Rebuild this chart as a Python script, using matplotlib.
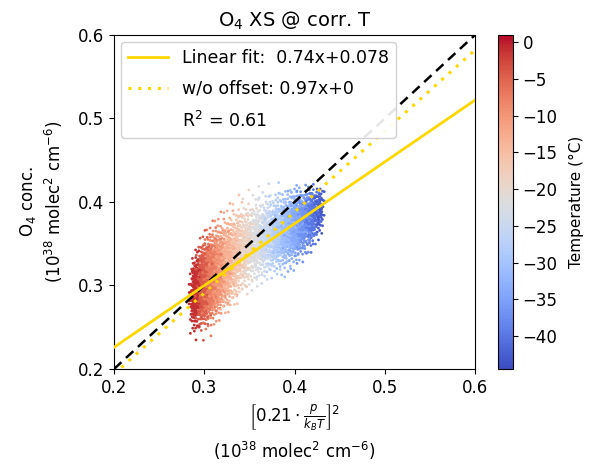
import numpy as np
import matplotlib
matplotlib.use("Agg")
import matplotlib.pyplot as plt

# ---- data (cloud described per temperature band) ----
band_temp = [-1, -4, -7, -10, -13, -16, -19, -22, -25, -28, -31, -34, -37, -40, -43]
band_xc = [0.290, 0.298, 0.306, 0.315, 0.325, 0.335, 0.346, 0.357, 0.368, 0.379, 0.390, 0.400, 0.410, 0.419, 0.427]
band_yc = [0.292, 0.300, 0.308, 0.316, 0.326, 0.336, 0.345, 0.352, 0.358, 0.362, 0.366, 0.371, 0.376, 0.382, 0.389]
band_xsd = [0.003, 0.004, 0.005, 0.005, 0.005, 0.005, 0.005, 0.005, 0.005, 0.005, 0.005, 0.005, 0.005, 0.004, 0.003]
band_ysd = [0.020, 0.023, 0.024, 0.025, 0.025, 0.025, 0.024, 0.023, 0.022, 0.021, 0.021, 0.020, 0.018, 0.016, 0.013]
band_n = [220, 330, 360, 320, 260, 220, 190, 180, 190, 210, 240, 250, 220, 160, 80]

fit_slope, fit_offset = 0.74, 0.078
nooff_slope = 0.97
r2 = 0.61
x_line = [0.2, 0.6]
x_ticks = [0.2, 0.3, 0.4, 0.5, 0.6]
y_ticks = [0.2, 0.3, 0.4, 0.5, 0.6]
cb_ticks = [0, -5, -10, -15, -20, -25, -30, -35, -40]
t_min, t_max = -44.5, 1.0

# deterministic quasi-uniform sequence (R2) to spread each band's points
g = 1.32471795724474602596
a1, a2 = 1.0 / g, 1.0 / g ** 2
xs, ys, ts = [], [], []
for k, (T, xc, yc, sx, sy, n) in enumerate(zip(band_temp, band_xc, band_yc, band_xsd, band_ysd, band_n)):
    i = np.arange(n) + 37 * k
    u = np.mod(0.5 + a1 * i, 1.0) * 0.985 + 0.0075
    v = np.mod(0.5 + a2 * i, 1.0)
    r = np.sqrt(-2 * np.log(u))
    a = r * np.cos(2 * np.pi * v)
    b = r * np.sin(2 * np.pi * v)
    dx = sx * a
    xs.append(xc + dx)
    ys.append(yc + sy * b + 1.0 * dx)
    ts.append(np.full(n, T, dtype=float))
xs = np.concatenate(xs); ys = np.concatenate(ys); ts = np.concatenate(ts)
order = np.argsort(np.mod(np.arange(len(xs)) * 0.6180339887, 1.0))
xs, ys, ts = xs[order], ys[order], ts[order]

fig = plt.figure(figsize=(5.91, 4.71), dpi=100)
ax = fig.add_axes([0.193, 0.2166, 0.611, 0.7094])
cax = fig.add_axes([0.842, 0.2166, 0.026, 0.7094])

sc = ax.scatter(xs, ys, c=ts, cmap="coolwarm", vmin=t_min, vmax=t_max, s=4, linewidths=0, zorder=1)

xl = np.array(x_line)
ax.plot(xl, xl, color="black", ls=(0, (4, 2.5)), lw=1.8, zorder=3)
h1, = ax.plot(xl, fit_slope * xl + fit_offset, color="#FFD700", lw=2, zorder=4,
              label="Linear fit:  %.2fx+%.3f" % (fit_slope, fit_offset))
h2, = ax.plot(xl, nooff_slope * xl, color="#FFD700", ls=(0, (1, 2.2)), lw=2.2, zorder=2,
              label="w/o offset: %.2fx+0" % nooff_slope)
h3, = ax.plot([], [], color="none", label="R$^2$ = %.2f" % r2)

ax.set_xlim(0.2, 0.6)
ax.set_ylim(0.2, 0.6)
ax.set_xticks(x_ticks)
ax.set_yticks(y_ticks)
ax.set_xticklabels([f"{t:.1f}" for t in x_ticks])
ax.set_yticklabels([f"{t:.1f}" for t in y_ticks])
ax.tick_params(labelsize=12)
ax.set_title("O$_4$ XS @ corr. T", fontsize=14)
ax.set_ylabel("O$_4$ conc.\n(10$^{38}$ molec$^2$ cm$^{-6}$)", fontsize=12, labelpad=9,
              linespacing=1.3)
ax.set_xlabel(r"$\left[0.21\cdot\frac{p}{k_BT}\right]^2$" + "\n(10$^{38}$ molec$^2$ cm$^{-6}$)",
              fontsize=12, linespacing=1.35)

leg = ax.legend(handles=[h1, h2, h3], loc="upper left", fontsize=12.5, handlelength=2.3,
                framealpha=0.9, borderaxespad=0.4, labelspacing=0.75)

cb = fig.colorbar(sc, cax=cax)
cb.set_ticks(cb_ticks)
cb.set_ticklabels([f"{t}" if t >= 0 else "\u2212%d" % (-t) for t in cb_ticks])
cb.ax.tick_params(labelsize=12)
cb.set_label("Temperature (°C)", fontsize=11, labelpad=8)

fig.savefig("out.png", dpi=100)
